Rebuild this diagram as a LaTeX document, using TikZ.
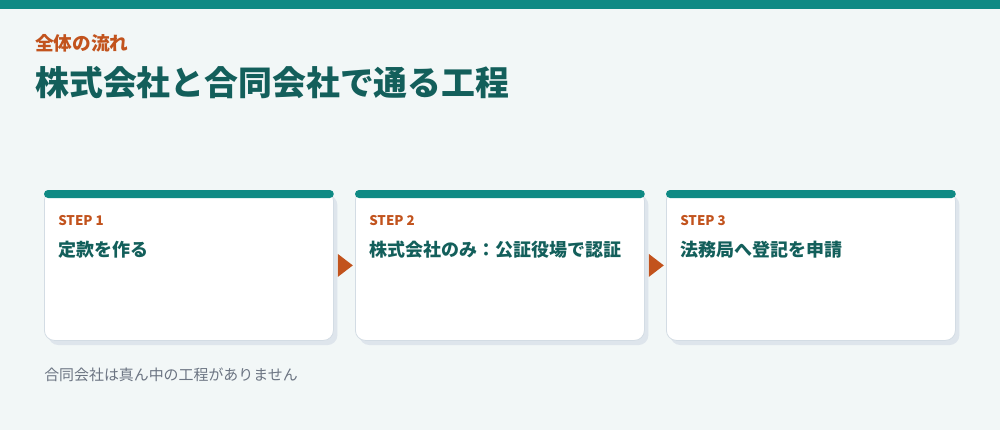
\documentclass[tikz,border=0pt]{standalone}
\usepackage{fontspec}
\setmainfont{Noto Sans CJK JP}
\definecolor{bgcol}{HTML}{F2F7F7}
\definecolor{barcol}{HTML}{0F8A84}
\definecolor{inkcol}{HTML}{135F5B}
\definecolor{stepcol}{HTML}{C2531D}
\definecolor{shadecol}{HTML}{DEE5EC}
\definecolor{edgecol}{HTML}{D3DCE4}
\definecolor{notecol}{HTML}{6B7482}
\tikzset{
	card/.style={draw=edgecol,fill=white,rounded corners=7.5pt,anchor=north west,
		minimum width=216.75pt,minimum height=112.5pt,line width=0.6pt,
		preaction={fill=shadecol,transform canvas={shift={(3pt,-3.5pt)}}}},
	cardbar/.style={fill=barcol,rounded corners=3pt},
	steplabel/.style={anchor=west,inner sep=0pt,text=stepcol,font=\fontsize{10pt}{12pt}\selectfont\bfseries},
	steptitle/.style={anchor=west,inner sep=0pt,text=inkcol,font=\fontsize{13.5pt}{16pt}\selectfont\bfseries},
	pointer/.style={fill=stepcol}
}
\begin{document}
\begin{tikzpicture}[x=0.75pt,y=-0.75pt]
\useasboundingbox (0,0) rectangle (1000,430);
\fill[bgcol] (0,0) rectangle (1000,430);
\fill[barcol] (0,0) rectangle (1000,9);

\node[anchor=west,inner sep=0pt,text=stepcol,font=\fontsize{14pt}{16pt}\selectfont\bfseries](kicker) at (35,43){全体の流れ};
\node[anchor=west,inner sep=0pt,text=inkcol,font=\fontsize{25.4pt}{30pt}\selectfont\bfseries](headline) at (35,83){株式会社と合同会社で通る工程};

\node[card](card1) at (44,190){};
\fill[cardbar](card1.north west) rectangle ([yshift=-6pt]card1.north east);
\node[steplabel](step1) at (58,221){STEP 1};
\node[steptitle](title1) at (58,250){定款を作る};

\node[card](card2) at (355,190){};
\fill[cardbar](card2.north west) rectangle ([yshift=-6pt]card2.north east);
\node[steplabel](step2) at (369,221){STEP 2};
\node[steptitle](title2) at (369,250){株式会社のみ：公証役場で認証};

\node[card](card3) at (666,190){};
\fill[cardbar](card3.north west) rectangle ([yshift=-6pt]card3.north east);
\node[steplabel](step3) at (680,221){STEP 3};
\node[steptitle](title3) at (680,250){法務局へ登記を申請};

\coordinate(gap1) at ([xshift=3pt]card1.east);
\fill[pointer](gap1) ++(0,-11.5) -- ++(15,11.5) -- ++(-15,11.5) -- cycle;
\coordinate(gap2) at ([xshift=3pt]card2.east);
\fill[pointer](gap2) ++(0,-11.5) -- ++(15,11.5) -- ++(-15,11.5) -- cycle;

\node[anchor=west,inner sep=0pt,text=notecol,font=\fontsize{11.2pt}{13pt}\selectfont](note) at (44,375){合同会社は真ん中の工程がありません};
\end{tikzpicture}
\end{document}
